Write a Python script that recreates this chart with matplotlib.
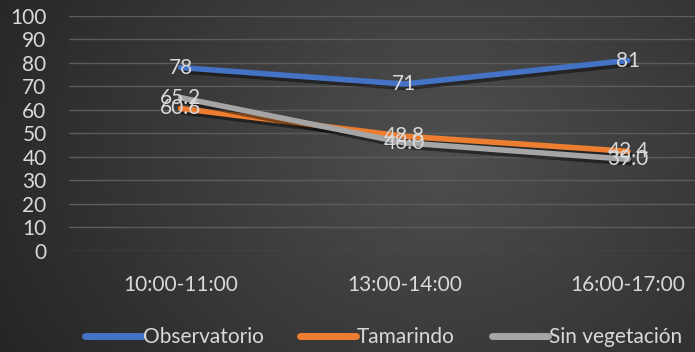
import numpy as np
import matplotlib
matplotlib.use("Agg")
import matplotlib.pyplot as plt
import matplotlib.patheffects as pe
from matplotlib.lines import Line2D

plt.rcParams['font.family'] = ['Lato', 'DejaVu Sans']

# Data
categories = ["10:00-11:00", "13:00-14:00", "16:00-17:00"]
observatorio = [78, 71, 81]
tamarindo = [60.6, 48.8, 42.4]
sin_vegetacion = [65.2, 46.0, 39.0]
labels_obs = ["78", "71", "81"]
labels_tam = ["60.6", "48.8", "42.4"]
labels_sin = ["65.2", "46.0", "39.0"]

series = [
    ("Observatorio", observatorio, labels_obs, "#4472C4"),
    ("Tamarindo", tamarindo, labels_tam, "#ED7D31"),
    ("Sin vegetación", sin_vegetacion, labels_sin, "#A5A5A5"),
]

text_color = "#D9D9D9"
fs = 15

fig = plt.figure(figsize=(6.95, 3.52), dpi=100)

# Radial gradient background
bg = fig.add_axes([0, 0, 1, 1], zorder=-10)
yy, xx = np.mgrid[0:352, 0:695]
r = np.sqrt(((xx - 440) / 520.0) ** 2 + ((yy - 150) / 420.0) ** 2)
r = np.clip(r, 0, 1)
shade = 0.31 - 0.17 * r
bg.imshow(np.dstack([shade] * 3), aspect="auto", extent=[0, 1, 0, 1])
bg.axis("off")

ax = fig.add_axes([0.099, 0.287, 0.901, 0.668])
ax.set_facecolor("none")

x = np.arange(len(categories))
shadow = [pe.SimpleLineShadow(offset=(1.5, -2.5), shadow_color="black", alpha=0.45), pe.Normal()]
for name, vals, labs, col in series:
    ax.plot(x, vals, color=col, linewidth=4, solid_capstyle="round",
            path_effects=shadow, label=name, zorder=3)
for name, vals, labs, col in series:
    for xi, v, t in zip(x, vals, labs):
        ax.text(xi, v, t, ha="center", va="center", fontsize=fs,
                color=text_color, zorder=5)

ax.set_ylim(0, 100)
ax.set_yticks(range(0, 101, 10))
ax.set_xlim(-0.5, 2.3)
ax.set_xticks(x)
ax.set_xticklabels(categories)
ax.grid(axis="y", color="#5C5C5C", linewidth=1)
ax.set_axisbelow(True)
for s in ax.spines.values():
    s.set_visible(False)
ax.tick_params(axis="both", length=0, colors=text_color, labelsize=fs)
ax.tick_params(axis="x", pad=17)
ax.tick_params(axis="y", pad=16)

handles = [Line2D([0], [0], color=c, linewidth=5, solid_capstyle="round") for _, _, _, c in series]
fig.legend(handles, [s[0] for s in series], loc="lower center",
           bbox_to_anchor=(0.552, -0.04), ncol=3, frameon=False,
           fontsize=fs, labelcolor=text_color, handlelength=2.7,
           handletextpad=0.05, columnspacing=1.75)

fig.savefig("out.png", dpi=100)
